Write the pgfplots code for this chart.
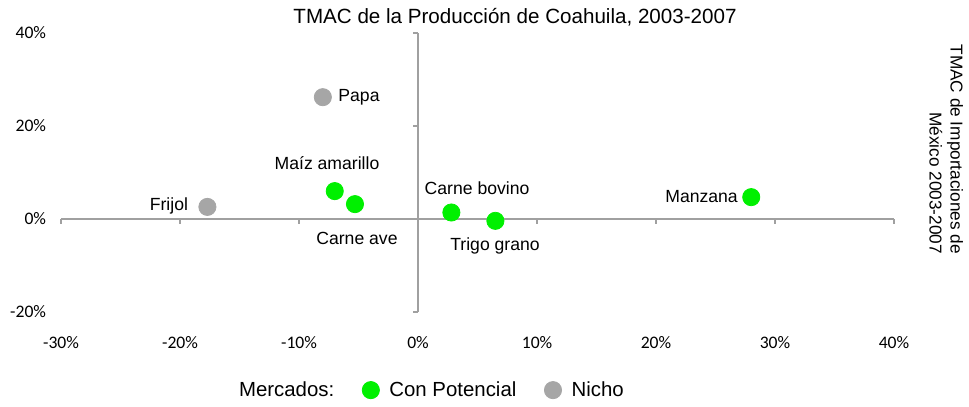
\documentclass[border=0pt]{standalone}
\usepackage{pgfplots}
\pgfplotsset{compat=1.18}
\usepackage{fontspec}
\setmainfont{Liberation Sans}
\newfontfamily\carlito{Carlito}
\definecolor{verde}{RGB}{0,240,0}
\definecolor{nicho}{RGB}{166,166,166}
\definecolor{eje}{RGB}{160,160,160}
\tikzset{lbl/.style={font=\fontsize{8.8bp}{10bp}\selectfont,inner sep=0pt}}

\begin{document}
\begin{tikzpicture}
\begin{axis}[
  scale only axis, width=416.5bp, height=139.5bp,
  xmin=-30, xmax=40, ymin=-20, ymax=40,
  axis line style={draw=none}, major tick length=0pt,
  xtick={-30,-20,-10,0,10,20,30,40},
  xticklabels={-30\%,-20\%,-10\%,0\%,10\%,20\%,30\%,40\%},
  ytick={-20,0,20,40},
  yticklabels={-20\%,0\%,20\%,40\%},
  tick label style={font=\carlito\fontsize{8.8bp}{10bp}\selectfont},
  xticklabel style={yshift=-8.5bp},
  yticklabel style={xshift=-4bp},
  clip=false,
  legend columns=-1,
  legend style={draw=none, at={(0.441,-0.28)}, anchor=center,
    font=\fontsize{10.2bp}{12bp}\selectfont,
    /tikz/every even column/.append style={column sep=12bp},
    /tikz/every odd column/.append style={column sep=3bp}},
]
\draw[eje, line width=0.6bp] (axis cs:-30,0) -- (axis cs:40,0);
\draw[eje, line width=0.6bp] (axis cs:0,-20) -- (axis cs:0,40);
\pgfplotsinvokeforeach{-30,-20,-10,10,20,30,40}{
  \draw[eje, line width=0.6bp] (axis cs:#1,0) -- ++(0bp,-2.5bp);}
\pgfplotsinvokeforeach{-20,20,40}{
  \draw[eje, line width=0.6bp] (axis cs:0,#1) -- ++(-2.5bp,0bp);}

\addlegendimage{empty legend}
\addlegendentry{Mercados:}
\addplot[only marks, mark=*, mark size=4.3bp, mark options={draw=verde, fill=verde}]
  coordinates {(-7.0,6.0) (-5.3,3.2) (2.8,1.4) (6.5,-0.4) (28.0,4.7)};
\addlegendentry{Con Potencial}
\addplot[only marks, mark=*, mark size=4.3bp, mark options={draw=nicho, fill=nicho}]
  coordinates {(-8.0,26.2) (-17.7,2.6)};
\addlegendentry{Nicho}

\node[lbl, anchor=west] at (axis cs:-6.72,26.2) {Papa};
\node[lbl, anchor=east] at (axis cs:-19.3,2.8) {Frijol};
\node[lbl] at (axis cs:-7.65,12.0) {Maíz amarillo};
\node[lbl] at (axis cs:-5.13,-4.1) {Carne ave};
\node[lbl] at (axis cs:4.96,6.7) {Carne bovino};
\node[lbl] at (axis cs:6.47,-5.8) {Trigo grano};
\node[lbl, anchor=east] at (axis cs:26.9,4.9) {Manzana};

\node[font=\fontsize{10.3bp}{12bp}\selectfont] at (axis cs:8.15,43.4)
  {TMAC de la Producción de Coahuila, 2003-2007};
\node[font=\fontsize{8.6bp}{10.5bp}\selectfont, rotate=-90, align=right,
  inner sep=0pt, anchor=east]
  at (axis cs:44.4,-7.6) {TMAC de Importaciones de\\México 2003-2007};

\coordinate (bbA) at (axis cs:-35.13,-39.78);
\coordinate (bbB) at (axis cs:46.3,47.1);
\end{axis}
\useasboundingbox (bbA) rectangle (bbB);
\end{tikzpicture}
\end{document}
